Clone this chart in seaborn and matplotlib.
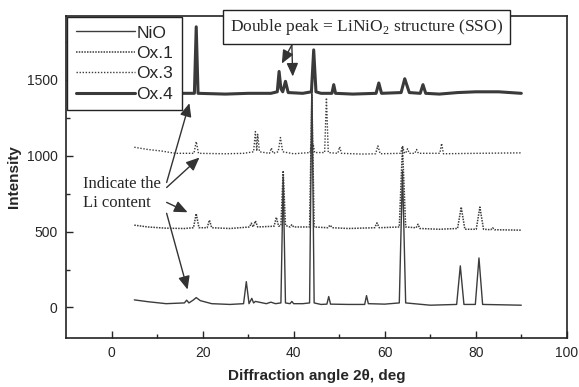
import numpy as np
import pandas as pd
import matplotlib
matplotlib.use("Agg")
import matplotlib.pyplot as plt
import seaborn as sns
from matplotlib.lines import Line2D

# XRD patterns (2theta in deg, intensity in a.u.)
nio_x = [5, 8, 12, 16, 16.5, 17, 18, 18.6, 19.5, 22, 26, 29.0, 29.6, 30.2, 30.8, 31.2, 31.6,
         34, 35, 36, 37.2, 37.7, 38.2, 39.2, 39.6, 40.0, 42, 43.5, 44.0, 44.5, 46, 47.3, 47.7,
         48.1, 52, 55.6, 56.0, 56.4, 60, 63.2, 63.9, 64.6, 70, 75.8, 76.6, 77.4, 79.9, 80.7,
         81.5, 85, 90]
nio_y = [50, 38, 25, 30, 48, 30, 50, 65, 45, 25, 20, 25, 170, 25, 60, 30, 40,
         25, 35, 25, 30, 860, 30, 25, 40, 25, 25, 30, 1500, 30, 20, 22, 72,
         22, 20, 20, 78, 25, 22, 30, 900, 30, 15, 20, 274, 20, 20, 326,
         20, 18, 15]

ox1_x = [5, 8, 12, 16, 18.0, 18.6, 19.2, 21.0, 21.5, 22.0, 26, 30.3, 30.7, 31.1, 31.6, 32.1,
         35.7, 36.2, 36.7, 37.2, 37.7, 38.2, 39.2, 39.6, 40.0, 43.5, 44.0, 44.5, 47.5, 48.0,
         48.5, 52, 57.8, 58.3, 58.8, 63.2, 63.9, 64.6, 66.9, 67.3, 67.7, 72, 76.0, 76.8, 77.6,
         80.1, 80.9, 81.7, 83.3, 83.7, 84.1, 90]
ox1_y = [542, 530, 522, 520, 525, 618, 525, 525, 575, 525, 520, 530, 555, 530, 570, 530,
         535, 594, 535, 540, 900, 540, 530, 545, 530, 530, 1400, 530, 525, 542,
         525, 520, 525, 557, 525, 530, 1060, 530, 525, 548, 520, 515, 520, 661, 515,
         515, 661, 515, 512, 525, 512, 509]

ox3_x = [5, 8, 11, 14, 18.1, 18.6, 19.1, 25, 29, 31.2, 31.6, 31.9, 32.1, 32.5, 34.7, 35.1,
         35.5, 36.6, 37.1, 37.6, 40, 43.6, 43.9, 44.1, 44.3, 44.6, 46.8, 47.2, 47.6, 49.7,
         50.1, 50.5, 55, 58.0, 58.5, 59.0, 63.5, 63.9, 64.3, 64.6, 65.0, 65.4, 66.6, 67,
         67.4, 72.1, 72.5, 72.9, 80, 90]
ox3_y = [1055, 1040, 1030, 1015, 1015, 1092, 1015, 1012, 1015, 1025, 1158, 1030, 1140, 1025,
         1015, 1050, 1015, 1025, 1119, 1025, 1012, 1020, 1080, 1040, 1075, 1020, 1020, 1380,
         1020, 1015, 1058, 1015, 1010, 1012, 1064, 1012, 1015, 1064, 1020, 1015, 1045, 1015,
         1015, 1040, 1015, 1015, 1080, 1012, 1015, 1018]

ox4_x = [5, 10, 15, 18.2, 18.6, 19.0, 25, 30, 35, 36.4, 36.8, 37.2, 37.6, 38.2, 38.8, 42,
         43.9, 44.4, 44.9, 46, 48.4, 48.8, 49.2, 53, 58.1, 58.7, 59.3, 63.6, 64.4, 65.4, 67.8,
         68.4, 69.0, 72, 76, 80, 85, 90]
ox4_y = [1410, 1405, 1410, 1410, 1848, 1410, 1405, 1410, 1410, 1420, 1554, 1440, 1420, 1489,
         1415, 1410, 1420, 1696, 1420, 1410, 1410, 1467, 1410, 1405, 1410, 1478, 1410, 1415,
         1506, 1415, 1410, 1467, 1410, 1405, 1415, 1420, 1420, 1410]

sns.set_style("ticks")
plt.rcParams['font.family'] = ['Liberation Sans', 'DejaVu Sans']
plt.rcParams['xtick.direction'] = 'in'
plt.rcParams['ytick.direction'] = 'in'

fig = plt.figure(figsize=(5.79, 3.87), dpi=100)
ax = fig.add_axes([0.114, 0.127, 0.865, 0.832])

series = [
    ("NiO", nio_x, nio_y, dict(color="#3c3c3c", lw=1.0, ls="-")),
    ("Ox.1", ox1_x, ox1_y, dict(color="#3c3c3c", lw=1.1, ls=(0, (1, 0.8)))),
    ("Ox.3", ox3_x, ox3_y, dict(color="#3c3c3c", lw=1.0, ls=(0, (1, 1.2)))),
    ("Ox.4", ox4_x, ox4_y, dict(color="#3a3a3a", lw=2.2, ls="-")),
]
for name, xs, ys, st in series:
    df = pd.DataFrame({"x": xs, "y": ys})
    sns.lineplot(data=df, x="x", y="y", ax=ax, estimator=None, sort=False,
                 color=st["color"], lw=st["lw"], ls=st["ls"])

ax.set_xlim(-10, 100)
ax.set_ylim(-200, 1920)
ax.set_xticks([0, 20, 40, 60, 80, 100])
ax.set_xticks([10, 30, 50, 70, 90], minor=True)
ax.set_yticks([0, 500, 1000, 1500])
ax.set_yticks([250, 750, 1250, 1750], minor=True)
ax.tick_params(which='major', length=5, width=1, labelsize=10, pad=6)
ax.tick_params(which='minor', length=3, width=1)
for s in ax.spines.values():
    s.set_linewidth(1.2)
    s.set_color("#222222")

ax.set_xlabel("Diffraction angle 2\u03b8, deg", fontsize=11, fontweight='bold', labelpad=6)
ax.set_ylabel("Intensity", fontsize=11, fontweight='bold', labelpad=4)

handles = [Line2D([], [], color=st["color"], lw=st["lw"], ls=st["ls"]) for _, _, _, st in series]
leg = ax.legend(handles, [s[0] for s in series], loc='upper left', bbox_to_anchor=(0, 1),
                borderaxespad=0.05, fancybox=False, edgecolor='#222222', framealpha=1,
                fontsize=12.5, handlelength=3.4, handletextpad=0.1, labelspacing=0.3,
                borderpad=0.5)
leg.get_frame().set_linewidth(1.0)

serif = ['Liberation Serif', 'DejaVu Serif']
arrow = dict(arrowstyle='-|>,head_length=0.8,head_width=0.35', color='#333333', lw=1.0,
             shrinkA=0, shrinkB=0)

# "Indicate the Li content" labels with arrows to each trace
ax.text(-6.2, 816, "Indicate the", family=serif, fontsize=12, va='center', ha='left')
ax.text(-6.2, 686, "Li content", family=serif, fontsize=12, va='center', ha='left')
for tail, head in [((12.1, 823), (17.1, 1345)), ((12.1, 790), (19.3, 987)),
                   ((12.1, 692), (16.7, 627)), ((12.1, 620), (16.7, 118))]:
    ax.annotate("", xy=head, xytext=tail, arrowprops=arrow)

# double peak callout
ax.text(56.0, 1848, "Double peak = LiNiO$_\\mathregular{2}$ structure (SSO)", family=serif,
        fontsize=12.5, ha='center', va='center', clip_on=False,
        bbox=dict(boxstyle='square,pad=0.4', fc='white', ec='#222222', lw=1.0))
for head in [(37.4, 1606), (39.8, 1521)]:
    ax.annotate("", xy=head, xytext=(39.6, 1728), arrowprops=arrow)

fig.savefig("out.png", dpi=100)
